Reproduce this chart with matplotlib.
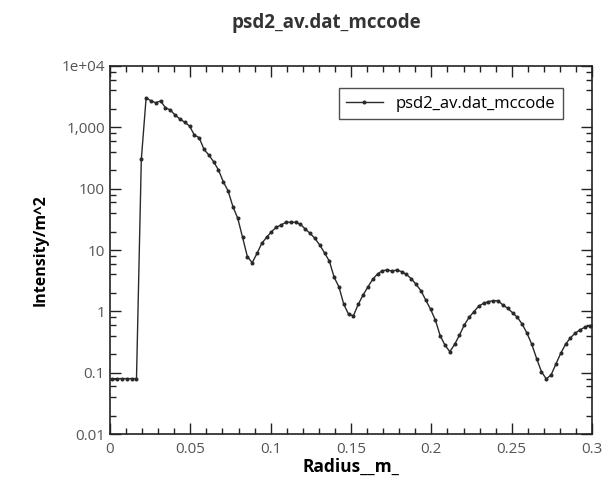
import numpy as np
import matplotlib
matplotlib.use("Agg")
import matplotlib.pyplot as plt
from matplotlib.ticker import FixedLocator, FuncFormatter, MultipleLocator

# -----------------------------
# Data
# -----------------------------
n_bins = 100
radius_max = 0.3

intensity = [
    0.08, 0.08, 0.08, 0.08, 0.08, 0.08, 300, 3050, 2690, 2520,
    2690, 2090, 1920, 1590, 1370, 1210, 1050, 750, 678, 438,
    354, 275, 202, 130, 92, 51, 33, 16.1, 7.8, 6.2,
    8.8, 12.9, 16.1, 19.9, 23.5, 25.6, 28.3, 28.3, 28.3, 26.3,
    22.0, 18.7, 15.5, 12.1, 9.0, 6.6, 3.6, 2.5, 1.30, 0.895,
    0.85, 1.30, 1.85, 2.5, 3.33, 4.06, 4.6, 4.72, 4.55, 4.72,
    4.43, 4.0, 3.4, 2.76, 2.17, 1.53, 1.08, 0.72, 0.40, 0.28,
    0.22, 0.29, 0.41, 0.60, 0.80, 0.99, 1.22, 1.35, 1.44, 1.49,
    1.49, 1.27, 1.12, 0.95, 0.80, 0.62, 0.44, 0.29, 0.17, 0.104,
    0.079, 0.092, 0.138, 0.207, 0.29, 0.37, 0.44, 0.50, 0.55, 0.58,
]

# bin centres
dr = radius_max / n_bins
radius = (np.arange(n_bins) + 0.5) * dr

series_name = "psd2_av.dat_mccode"
x_label = "Radius__m_"
y_label = "Intensity/m^2"
y_ticks = [0.01, 0.1, 1, 10, 100, 1000, 10000]
y_tick_labels = ["0.01", "0.1", "1", "10", "100", "1,000", "1e+04"]

# -----------------------------
# Plot
# -----------------------------
plt.rcParams["font.family"] = ["Open Sans", "DejaVu Sans"]

fig = plt.figure(figsize=(6.11, 4.83), dpi=100)
ax = fig.add_axes([0.18, 0.1014, 0.789, 0.762])

ax.plot(radius, intensity, color="#2a2a2a", lw=1.0, marker="o",
        markersize=1.9, label=series_name)

ax.set_yscale("log")
ax.set_xlim(0, 0.3)
ax.set_ylim(0.01, 1e4)

ax.xaxis.set_major_locator(MultipleLocator(0.05))
ax.xaxis.set_minor_locator(MultipleLocator(0.01))
ax.xaxis.set_major_formatter(FuncFormatter(lambda v, p: f"{v:g}"))

ax.yaxis.set_major_locator(FixedLocator(y_ticks))
ax.yaxis.set_major_formatter(FuncFormatter(
    lambda v, p: y_tick_labels[int(round(np.log10(v))) + 2]))
minor = [m * 10.0 ** e for e in range(-2, 4) for m in (2, 4, 6, 8)]
ax.yaxis.set_minor_locator(FixedLocator(minor))

ax.tick_params(which="both", direction="in", top=True, right=True,
               colors="#222222", labelcolor="#555555", labelsize=11)
ax.tick_params(which="major", length=8, width=1)
ax.tick_params(which="minor", length=4.5, width=1)
ax.tick_params(axis="x", pad=6)
for s in ax.spines.values():
    s.set_linewidth(1.2)
    s.set_color("#222222")

ax.set_xlabel(x_label, fontsize=12.5, fontweight="bold", labelpad=0)
ax.set_ylabel(y_label, fontsize=11.5, fontweight="bold", labelpad=9)

fig.text(326 / 611, 1 - 23 / 483, series_name, ha="center", va="center",
         fontsize=13.5, fontweight="bold", color="#333333")

leg = ax.legend(loc="upper right", bbox_to_anchor=(0.94, 0.94), borderaxespad=0,
                fontsize=12, frameon=True, fancybox=False, handlelength=2.2,
                handletextpad=0.8, borderpad=0.45)
leg.get_frame().set_edgecolor("#222222")
leg.get_frame().set_linewidth(1.0)

fig.savefig("out.png", dpi=100)
